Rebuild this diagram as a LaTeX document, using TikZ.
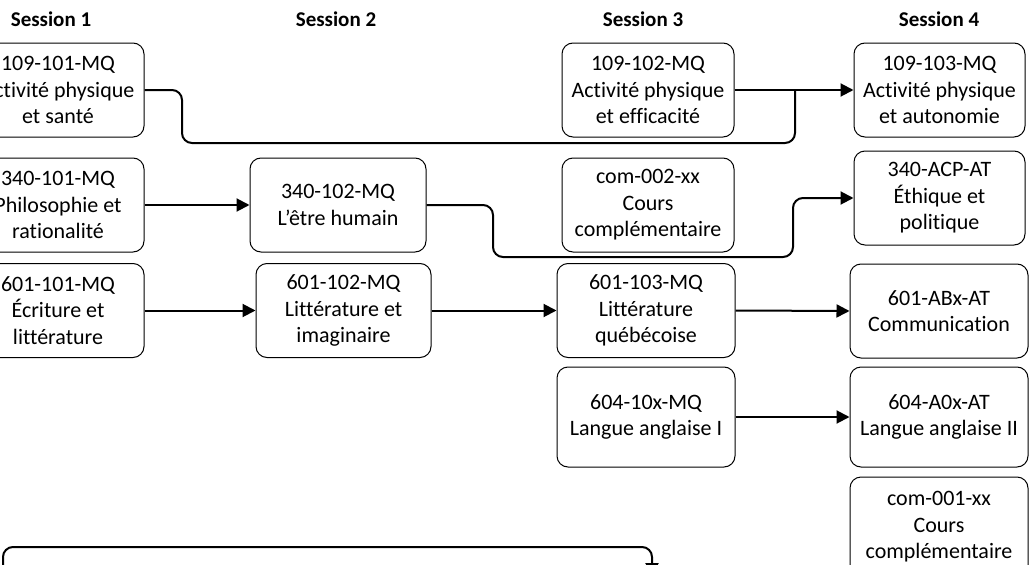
\documentclass[tikz,border=0pt]{standalone}
\usepackage{fontspec}
\setmainfont{Carlito}[Ligatures={NoCommon}]
\usetikzlibrary{arrows.meta}
\begin{document}
\begin{tikzpicture}[x=1pt,y=-1pt,
  box/.style={draw, line width=1pt, rounded corners=11pt, align=center, inner sep=0pt,
    minimum width=172pt, minimum height=94pt, font=\fontsize{22}{26.5}\selectfont},
  hdr/.style={font=\bfseries\fontsize{21}{25}\selectfont, anchor=base},
  conn/.style={line width=2pt, rounded corners=10pt},
  arr/.style={conn, -{Triangle[length=13pt,width=13pt]}}]
\useasboundingbox (0,0) rectangle (1029,565);
\clip (0,0) rectangle (1029,565);

\node[hdr] (h1) at (51,26) {Session 1};
\node[hdr] (h2) at (336,26) {Session 2};
\node[hdr] (h3) at (643,26) {Session 3};
\node[hdr] (h4) at (939,26) {Session 4};

\node[box] (a1) at (58,90) {109-101-MQ\\Activité physique\\et santé};
\node[box] (p1) at (58,205) {340-101-MQ\\Philosophie et\\rationalité};
\node[box] (f1) at (58,310.5) {601-101-MQ\\Écriture et\\littérature};

\node[box, minimum width=176pt] (p2) at (338,205) {340-102-MQ\\L’être humain};
\node[box, minimum width=175pt] (f2) at (343.5,310.5) {601-102-MQ\\Littérature et\\imaginaire};

\node[box] (a3) at (648,90) {109-102-MQ\\Activité physique\\et efficacité};
\node[box] (c3) at (648,205) {com-002-xx\\Cours\\complémentaire};
\node[box, minimum width=178pt] (f3) at (646,310.5) {601-103-MQ\\Littérature\\québécoise};
\node[box, minimum width=178pt, minimum height=100pt] (e3) at (646,417) {604-10x-MQ\\Langue anglaise I};

\node[box, minimum width=171pt] (a4) at (939.5,90) {109-103-MQ\\Activité physique\\et autonomie};
\node[box, minimum width=171pt] (p4) at (939.5,198) {340-ACP-AT\\Éthique et\\politique};
\node[box, minimum width=178pt] (f4) at (939,311) {601-ABx-AT\\Communication};
\node[box, minimum width=178pt, minimum height=100pt] (e4) at (939,417) {604-A0x-AT\\Langue anglaise II};
\node[box, minimum width=178pt, minimum height=100pt] (c4) at (939,527) {com-001-xx\\Cours\\complémentaire};

\coordinate (j1) at (795,90);
\draw[conn] (a1.east) -- (182,90) -- (182,143) -- (795,143) -- (j1);
\draw[arr] (a3.east) -- (a4.west);
\draw[arr] (p1.east) -- (p2.west);
\draw[arr] (p2.east) -- (493,205) -- (493,257) -- (793,257) -- (793,198) -- (p4.west);
\draw[arr] (f1.east) -- (f2.west);
\draw[arr] (f2.east) -- (f3.west);
\draw[arr] (f3.east) -- (f4.west);
\draw[arr] (e3.east) -- (e4.west);

\coordinate (s) at (3,600);
\coordinate (t) at (652,576);
\draw[arr] (s) -- (3,547) -- (652,547) -- (t);
\end{tikzpicture}
\end{document}
